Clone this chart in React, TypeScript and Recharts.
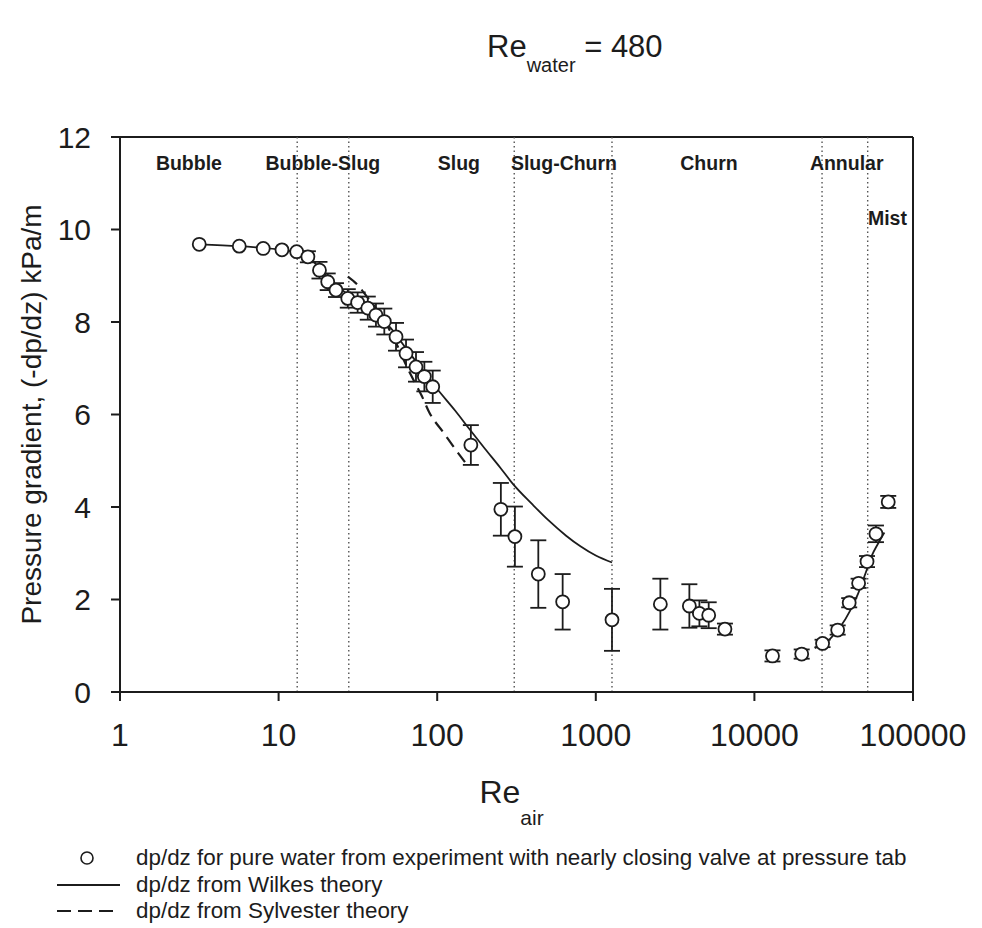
import {
  ComposedChart,
  XAxis,
  YAxis,
  Scatter,
  Line,
  ErrorBar,
  ReferenceLine,
} from "recharts";

const FONT = "'Liberation Sans', Arial, Helvetica, sans-serif";
const INK = "#1c1c1c";

// experiment, pure water, nearly closed valve
const reAir = [
  3.16, 5.65, 8.0, 10.5, 13.0, 15.3, 18.1, 20.4, 23.0, 27.3, 31.5, 36.5, 41.1,
  46.4, 55.0, 63.6, 73.5, 83, 93.7, 163, 252, 309, 434, 618, 1265, 2553, 3890,
  4500, 5150, 6520, 13000, 19870, 26900, 33500, 39600, 45400, 51300, 58400,
  69800,
];
const dpdz = [
  9.68, 9.64, 9.59, 9.56, 9.52, 9.41, 9.12, 8.87, 8.69, 8.51, 8.42, 8.3, 8.15,
  8.01, 7.68, 7.32, 7.03, 6.82, 6.6, 5.34, 3.95, 3.36, 2.55, 1.95, 1.56, 1.9,
  1.86, 1.7, 1.66, 1.36, 0.78, 0.82, 1.05, 1.34, 1.93, 2.35, 2.82, 3.42, 4.11,
];
const dpdzErr = [
  0, 0, 0, 0, 0, 0.12, 0.18, 0.18, 0.15, 0.2, 0.22, 0.25, 0.25, 0.28, 0.3, 0.3,
  0.32, 0.32, 0.35, 0.43, 0.57, 0.65, 0.73, 0.6, 0.67, 0.55, 0.47, 0.28, 0.28,
  0.12, 0.12, 0.1, 0.08, 0.1, 0.1, 0.1, 0.12, 0.18, 0.13,
];

// Wilkes theory, two branches
const wilkesLowRe = [
  3.16, 5.65, 8, 10.5, 13, 16, 20, 25, 32, 40, 50, 63, 80, 100, 130, 160, 200,
  250, 300, 400, 500, 650, 800, 1000, 1265,
];
const wilkesLowDp = [
  9.68, 9.64, 9.6, 9.56, 9.5, 9.35, 9.0, 8.7, 8.42, 8.18, 7.9, 7.45, 6.98, 6.55,
  6.08, 5.68, 5.26, 4.85, 4.5, 4.05, 3.72, 3.38, 3.15, 2.95, 2.8,
];
const wilkesHighRe = [24000, 30000, 35000, 40000, 45000, 50000, 55000, 60000, 66000];
const wilkesHighDp = [0.95, 1.15, 1.42, 1.75, 2.12, 2.55, 2.95, 3.2, 3.45];

// Sylvester theory
const sylvesterRe = [27.3, 31.5, 36, 41, 47, 55, 64, 72, 80, 89, 110, 130, 155];
const sylvesterDp = [8.98, 8.8, 8.55, 8.3, 8.0, 7.55, 7.05, 6.7, 6.4, 6.05, 5.6, 5.25, 4.9];

// flow regime boundaries and names
const regimeBounds = [13.1, 27.7, 306, 1265, 26700, 51800];
const regimeNames = ["Bubble", "Bubble-Slug", "Slug", "Slug-Churn", "Churn", "Annular", "Mist"];
const regimeX = [2.72, 19, 137, 630, 5170, 38200, 69000];
const regimeY = [11.43, 11.43, 11.43, 11.43, 11.43, 11.43, 10.25];

const xTicks = [1, 10, 100, 1000, 10000, 100000];
const yTicks = [0, 2, 4, 6, 8, 10, 12];

const legendLabels = [
  "dp/dz for pure water from experiment with nearly closing valve at pressure tab",
  "dp/dz from Wilkes theory",
  "dp/dz from Sylvester theory",
];

const zip = (xs: number[], ys: number[]) => xs.map((x, i) => ({ x, y: ys[i] }));

const experiment = reAir.map((x, i) => ({ x, y: dpdz[i], err: dpdzErr[i] }));
const wilkesLow = zip(wilkesLowRe, wilkesLowDp);
const wilkesHigh = zip(wilkesHighRe, wilkesHighDp);
const sylvester = zip(sylvesterRe, sylvesterDp);
const regimes = regimeNames.map((name, i) => ({ x: regimeX[i], y: regimeY[i], name }));

const OpenCircle = (props: any) => (
  <circle cx={props.cx} cy={props.cy} r={6.5} fill="#fff" stroke={INK} strokeWidth={1.8} />
);

const RegimeText = (props: any) => (
  <text
    x={props.cx}
    y={props.cy}
    textAnchor="middle"
    dominantBaseline="central"
    fontFamily={FONT}
    fontWeight="bold"
    fontSize={19.5}
    fill={INK}
  >
    {props.payload.name}
  </text>
);

const YTitle = (props: any) => {
  const { viewBox } = props;
  const cx = viewBox.x + 31;
  const cy = viewBox.y + viewBox.height / 2;
  return (
    <text
      x={cx}
      y={cy}
      transform={`rotate(-90 ${cx} ${cy})`}
      textAnchor="middle"
      dominantBaseline="central"
      fontFamily={FONT}
      fontSize={28}
      fill={INK}
    >
      Pressure gradient, (-dp/dz) kPa/m
    </text>
  );
};

const XTitle = (props: any) => {
  const { viewBox } = props;
  return (
    <text
      x={viewBox.x + viewBox.width / 2 - 5}
      y={803}
      textAnchor="middle"
      fontFamily={FONT}
      fill={INK}
    >
      <tspan fontSize={32}>Re</tspan>
      <tspan fontSize={21} dy={22}>air</tspan>
    </text>
  );
};

export default function App() {
  return (
    <div style={{ position: "absolute", left: 0, top: 0, width: 982, height: 928, background: "#fff" }}>
      <ComposedChart
        width={982}
        height={928}
        margin={{ top: 137, right: 69, left: 0, bottom: 0 }}
      >
        <XAxis
          dataKey="x"
          type="number"
          scale="log"
          domain={[1, 100000]}
          ticks={xTicks}
          allowDataOverflow
          height={236}
          tickSize={9}
          tickMargin={22}
          axisLine={{ stroke: INK, strokeWidth: 2 }}
          tickLine={{ stroke: INK, strokeWidth: 2 }}
          tick={{ fontSize: 32, fill: INK, fontFamily: FONT }}
          label={{ content: XTitle }}
        />
        <YAxis
          type="number"
          domain={[0, 12]}
          ticks={yTicks}
          width={120}
          tickSize={9}
          tickMargin={20}
          axisLine={{ stroke: INK, strokeWidth: 2 }}
          tickLine={{ stroke: INK, strokeWidth: 2 }}
          tick={{ fontSize: 30, fill: INK, fontFamily: FONT }}
          label={{ content: YTitle }}
        />
        <ReferenceLine y={12} stroke={INK} strokeWidth={2} />
        <ReferenceLine x={100000} stroke={INK} strokeWidth={2} />
        {regimeBounds.map((b) => (
          <ReferenceLine key={b} x={b} stroke="#555" strokeWidth={1.4} strokeDasharray="1.5 3" />
        ))}
        <Line
          data={wilkesLow}
          dataKey="y"
          type="monotone"
          dot={false}
          stroke={INK}
          strokeWidth={1.8}
          isAnimationActive={false}
        />
        <Line
          data={wilkesHigh}
          dataKey="y"
          type="monotone"
          dot={false}
          stroke={INK}
          strokeWidth={1.8}
          isAnimationActive={false}
        />
        <Line
          data={sylvester}
          dataKey="y"
          type="monotone"
          dot={false}
          stroke={INK}
          strokeWidth={2.2}
          strokeDasharray="12 7"
          isAnimationActive={false}
        />
        <Scatter data={experiment} dataKey="y" shape={OpenCircle} isAnimationActive={false}>
          <ErrorBar dataKey="err" direction="y" width={8} stroke={INK} strokeWidth={1.8} />
        </Scatter>
        <Scatter data={regimes} dataKey="y" shape={RegimeText} isAnimationActive={false} />
      </ComposedChart>

      <svg
        width={982}
        height={928}
        style={{ position: "absolute", left: 0, top: 0, pointerEvents: "none" }}
      >
        <text x={487} y={57} fontFamily={FONT} fill={INK}>
          <tspan fontSize={31}>Re</tspan>
          <tspan fontSize={20} dy={15}>water</tspan>
          <tspan fontSize={31} dy={-15}> = 480</tspan>
        </text>

        <circle cx={87} cy={858} r={6} fill="#fff" stroke={INK} strokeWidth={1.6} />
        <line x1={57} y1={885} x2={120} y2={885} stroke={INK} strokeWidth={1.8} />
        <line x1={57} y1={911} x2={120} y2={911} stroke={INK} strokeWidth={2.2} strokeDasharray="14 7" />
        {legendLabels.map((t, i) => (
          <text key={t} x={136} y={865 + i * 26.5} fontFamily={FONT} fontSize={22.4} fill={INK}>
            {t}
          </text>
        ))}
      </svg>
    </div>
  );
}
